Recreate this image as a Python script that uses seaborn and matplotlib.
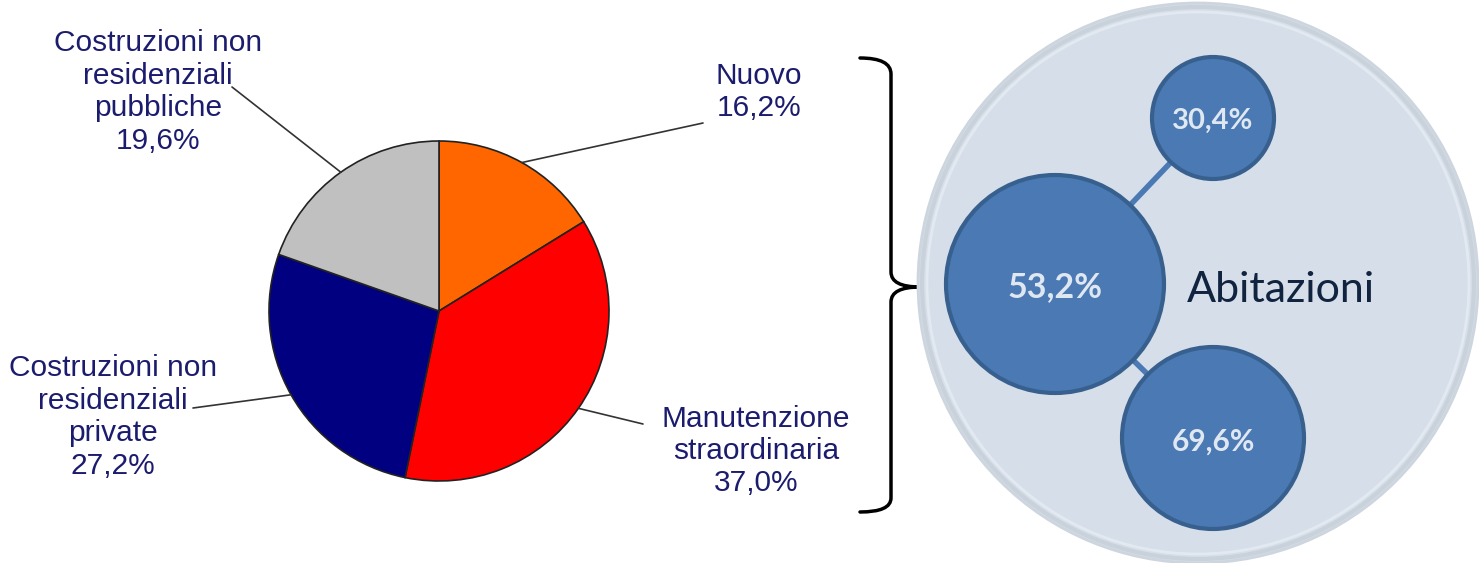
import numpy as np
import matplotlib
matplotlib.use("Agg")
import matplotlib.pyplot as plt
from matplotlib.patches import Circle, PathPatch
from matplotlib.path import Path
import seaborn as sns

# pie data
categories = ["Nuovo", "Manutenzione\nstraordinaria",
              "Costruzioni non\nresidenziali\nprivate",
              "Costruzioni non\nresidenziali\npubbliche"]
shares = [16.2, 37.0, 27.2, 19.6]
pie_colors = ["#ff6600", "#ff0000", "#000080", "#c0c0c0"]

# abitazioni bubbles
bubble_labels = ["30,4%", "53,2%", "69,6%"]
group_label = "Abitazioni"

W, H = 1479, 563
sns.set_theme(style="white")
plt.rcParams["font.family"] = ["Liberation Sans", "DejaVu Sans"]

fig = plt.figure(figsize=(W / 100, H / 100), dpi=100)
ax = fig.add_axes([0, 0, 1, 1])


def Y(y):
    # pixel rows are counted from the top
    return H - y


# pie
cx, cy, r = 439, Y(311), 170
wedges, _ = ax.pie(shares, colors=pie_colors, startangle=90, counterclock=False,
                   center=(cx, cy), radius=r,
                   wedgeprops=dict(edgecolor="#222222", linewidth=1.2))

# label layout: text centre and end of leader line
label_pos = [(759, 92), (756, 451), (113, 417), (158, 92)]
line_end = [(703, 123), (643, 424), (193, 408), (232, 87)]
text_color = "#1c1c6e"
for w, lab, val, (tx, ty), (lx, ly) in zip(wedges, categories, shares, label_pos, line_end):
    mid = np.deg2rad((w.theta1 + w.theta2) / 2)
    px, py = cx + r * np.cos(mid), cy + r * np.sin(mid)
    ax.plot([px, lx], [py, Y(ly)], color="#333333", lw=1.2, zorder=1)
    txt = lab + "\n" + f"{val:.1f}".replace(".", ",") + "%"
    ax.text(tx, Y(ty), txt, ha="center", va="center", fontsize=21.5,
            color=text_color, linespacing=1.2, zorder=3)

# curly brace
verts = [(860, Y(58)), (891, Y(58)), (891, Y(74)),
         (891, Y(272)),
         (891, Y(287)), (920, Y(287)),
         (891, Y(287)), (891, Y(302)),
         (891, Y(498)),
         (891, Y(512)), (860, Y(512))]
codes = [Path.MOVETO, Path.CURVE3, Path.CURVE3,
         Path.LINETO,
         Path.CURVE3, Path.CURVE3,
         Path.CURVE3, Path.CURVE3,
         Path.LINETO,
         Path.CURVE3, Path.CURVE3]
ax.add_patch(PathPatch(Path(verts, codes), fill=False, lw=2.5, edgecolor="black",
                       capstyle="round", joinstyle="round"))

# big background circle with a soft rim
bx, by, br = 1198, Y(283), 280
ax.add_patch(Circle((bx, by), br, facecolor="#d6dee9", edgecolor="#cdd5df", lw=2, zorder=1))
ax.add_patch(Circle((bx, by), br - 4, facecolor="none", edgecolor="#c9d1db", lw=3, zorder=1))
ax.add_patch(Circle((bx, by), br - 9, facecolor="none", edgecolor="#e3e9f1", lw=2, zorder=1))

# bubbles: centre, radius, text baseline, font size
bubble_xy = [(1213, 118), (1055, 284), (1213, 438)]
bubble_r = [61, 109, 91]
bubble_base = [129, 297, 451]
bubble_fs = [21, 24.5, 21.5]
blue = "#4a79b4"
for i in (0, 2):
    ax.plot([bubble_xy[1][0], bubble_xy[i][0]], [Y(bubble_xy[1][1]), Y(bubble_xy[i][1])],
            color=blue, lw=4, zorder=2)
for (x, y), rr, base, lab, fs in zip(bubble_xy, bubble_r, bubble_base, bubble_labels, bubble_fs):
    ax.add_patch(Circle((x, Y(y)), rr, facecolor=blue, edgecolor="#38608f", lw=3, zorder=3))
    ax.text(x, Y(base), lab, ha="center", va="baseline", fontsize=fs, fontweight="bold",
            color="#dfe7f1", family=["Lato", "DejaVu Sans"], zorder=4)

ax.text(1187, Y(302), group_label, ha="left", va="baseline", fontsize=31,
        color="#10233f", family=["Lato", "DejaVu Sans"], zorder=4)

ax.set_xlim(0, W)
ax.set_ylim(0, H)
ax.set_aspect("equal")
ax.axis("off")
fig.savefig("out.png", dpi=100)
